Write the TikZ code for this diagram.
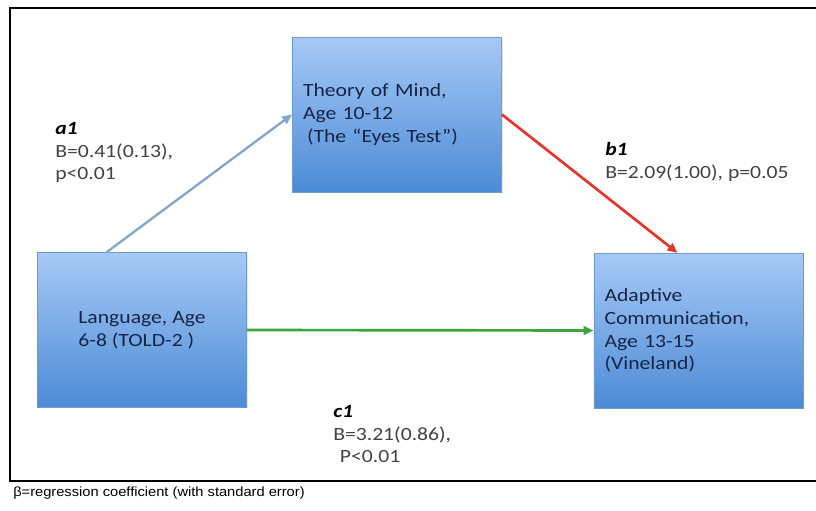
\documentclass[tikz,border=0pt]{standalone}
\usepackage{fontspec}
\setmainfont{Carlito}[FakeStretch=1.16]
\newfontfamily\notefont{Liberation Sans}[FakeStretch=1.1]
\usepackage{tikz}
\usetikzlibrary{calc,arrows.meta,positioning,shadows}
\definecolor{boxtop}{RGB}{166,201,246}
\definecolor{boxbot}{RGB}{76,139,214}
\definecolor{boxline}{RGB}{110,155,210}
\definecolor{arrblue}{RGB}{128,166,206}
\definecolor{arrred}{RGB}{230,52,40}
\definecolor{arrgreen}{RGB}{62,165,62}
\definecolor{textnavy}{RGB}{22,36,70}
\definecolor{textgray}{RGB}{66,66,66}

\begin{document}
\begin{tikzpicture}[x=0.75pt, y=-0.75pt, every node/.style={font=\fontsize{14}{17}\selectfont},
    varbox/.style={draw=boxline, top color=boxtop, bottom color=boxbot, minimum width=157pt, minimum height=116pt,
      align=left, text=textnavy, drop shadow={opacity=0.2, shadow xshift=0.8pt, shadow yshift=-0.8pt}},
    linkarrow/.style={line width=2pt, -{Triangle[length=7.5pt, width=6.5pt]}},
    coef/.style={align=left, text=textgray, inner sep=0pt, anchor=north west}]
  \useasboundingbox (0,0) rectangle (816,510);
  % frame (right side runs off the page)
  \draw[line width=2pt] (816,8) -- (10,8) -- (10,481) -- (816,481);

  % the three measures
  \node[varbox, text width=141pt] (tom) at (397,114.5) {Theory of Mind,\\Age 10-12\\\hspace*{3pt}(The “Eyes Test”)};
  \node[varbox] (lang) at (142,330) {Language, Age\\6-8 (TOLD-2 )};
  \node[varbox, text width=141pt] (adapt) at (698.5,330.5) {Adaptive\\Communication,\\Age 13-15\\(Vineland)};

  % paths
  \draw[linkarrow, arrblue, line width=1.7pt] ($(lang.north west)!0.33!(lang.north east)$) -- (tom.west);
  \draw[linkarrow, arrred] (tom.east) -- ($(adapt.north west)!0.4!(adapt.north east)$);
  \draw[linkarrow, arrgreen] (lang.east) -- (adapt.west);

  % coefficients
  \node[coef] (a1) at (55,122) {\textcolor{black}{\textbf{\textit{a1}}}\\B=0.41(0.13),\\p<0.01};
  \node[coef] (b1) at (605,142) {\textcolor{black}{\textbf{\textit{b1}}}\\B=2.09(1.00), p=0.05};
  \node[coef] (c1) at (333,405) {\textcolor{black}{\textbf{\textit{c1}}}\\B=3.21(0.86),\\\hspace*{5pt}P<0.01};

  \node[anchor=west, inner sep=0pt, font=\notefont\fontsize{10}{12}\selectfont] (note) at (13,493)
    {β=regression coefficient (with standard error)};
\end{tikzpicture}
\end{document}
